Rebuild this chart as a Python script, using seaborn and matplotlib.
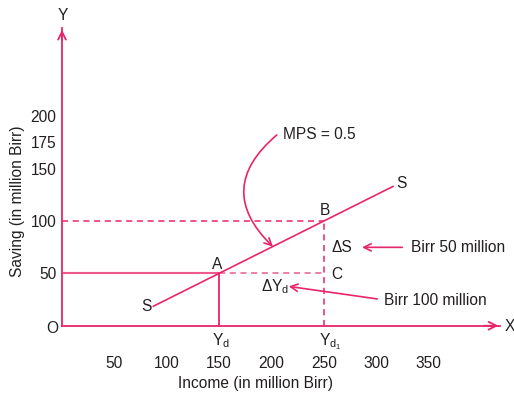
import matplotlib
matplotlib.use("Agg")
import matplotlib.pyplot as plt
import seaborn as sns

# ---- data ----
income_ticks = [50, 100, 150, 200, 250, 300, 350]
saving_ticks = [50, 100, 150, 175, 200]
s_income = [87, 316]          # saving function S (endpoints)
s_saving = [18.5, 133]
point_a = (150, 50)
point_b = (250, 100)
point_c = (250, 50)

sns.set_theme(style="white")
plt.rcParams['font.family'] = ['Liberation Sans', 'DejaVu Sans']
plt.rcParams['mathtext.fontset'] = 'custom'
plt.rcParams['mathtext.rm'] = 'Liberation Sans'
plt.rcParams['mathtext.it'] = 'Liberation Sans'

PINK = '#e8246a'
LIGHT = '#ee5a8e'
TXT = '#231f20'
FS = 11.2

fig = plt.figure(figsize=(5.14, 3.95), dpi=100)
ax = fig.add_axes([0, 0, 1, 1])
ax.set_xlim(-59.16, 431.3)
ax.set_ylim(-66.1, 310.8)
ax.patch.set_alpha(0)

# axes spines as the economic axes
for s in ['top', 'right']:
    ax.spines[s].set_visible(False)
for s in ['left', 'bottom']:
    ax.spines[s].set_position(('data', 0))
    ax.spines[s].set_color(PINK)
    ax.spines[s].set_linewidth(1.3)
ax.spines['left'].set_bounds(0, 284)
ax.spines['bottom'].set_bounds(0, 418)
ax.annotate('', xy=(0, 285), xytext=(0, 270),
            arrowprops=dict(arrowstyle='->', color=PINK, lw=1.3, mutation_scale=14))
ax.annotate('', xy=(419, 0), xytext=(400, 0),
            arrowprops=dict(arrowstyle='->', color=PINK, lw=1.3, mutation_scale=14))

ax.set_xticks(income_ticks)
ax.set_xticklabels([str(v) for v in income_ticks])
ax.set_yticks(saving_ticks)
ax.set_yticklabels([str(v) for v in saving_ticks])
ax.tick_params(axis='both', direction='in', length=5, width=1.1, color=PINK,
               labelsize=FS, labelcolor=TXT)
ax.tick_params(axis='x', pad=22)
ax.tick_params(axis='y', pad=4)
ax.grid(False)

# guide lines
ax.plot([0, point_a[0]], [point_a[1], point_a[1]], color=LIGHT, lw=1.5, solid_capstyle='butt')
ax.plot([point_a[0], point_c[0]], [point_a[1], point_c[1]], color=LIGHT, lw=1.1,
        dashes=(4, 3))
ax.plot([point_a[0], point_a[0]], [0, point_a[1]], color=PINK, lw=1.3)
ax.plot([0, point_b[0]], [point_b[1], point_b[1]], color=PINK, lw=1.1, dashes=(4, 3))
ax.plot([point_b[0], point_b[0]], [0, point_b[1]], color=PINK, lw=1.1, dashes=(4, 3))

# saving function
sns.lineplot(x=s_income, y=s_saving, ax=ax, color=PINK, lw=1.2)

kw = dict(fontsize=FS, color=TXT)
ax.text(80.2, 18.1, 'S', ha='center', va='center', **kw)
ax.text(324, 136, 'S', ha='center', va='center', **kw)
ax.text(148.2, 58, 'A', ha='center', va='center', **kw)
ax.text(251, 110.4, 'B', ha='center', va='center', **kw)
ax.text(262.7, 49.3, 'C', ha='center', va='center', **kw)
ax.text(266.9, 74.8, 'ΔS', ha='center', va='center', **kw)
ax.text(378.2, 74.8, 'Birr 50 million', ha='center', va='center', **kw)
ax.text(203, 37.2, r'Δ$\mathregular{Y_d}$', ha='center', va='center', **kw)
ax.text(356, 24.5, 'Birr 100 million', ha='center', va='center', **kw)
ax.text(245.5, 182, 'MPS = 0.5', ha='center', va='center', **kw)
ax.text(152, -5.5, r'$\mathregular{Y_d}$', ha='center', va='top', **kw)
ax.text(256, -5.5, r'$\mathregular{Y_{d_1}}$', ha='center', va='top', **kw)
ax.text(-9.3, -3, 'O', ha='center', va='center', **kw)
ax.text(0.7, 296, 'Y', ha='center', va='center', **kw)
ax.text(427.5, -1, 'X', ha='center', va='center', **kw)
ax.text(185, -55.6, 'Income (in million Birr)', ha='center', va='center', **kw)
ax.text(-42, 119, 'Saving (in million Birr)', ha='center', va='center',
        rotation=90, **kw)

# annotation arrows
ax.annotate('', xy=(283.7, 74.8), xytext=(327.3, 74.8),
            arrowprops=dict(arrowstyle='->', color=PINK, lw=1.2, mutation_scale=13))
ax.annotate('', xy=(213.7, 37.9), xytext=(303.4, 25.2),
            arrowprops=dict(arrowstyle='->', color=PINK, lw=1.2, mutation_scale=13))
ax.annotate('', xy=(201.3, 75.4), xytext=(204.9, 182),
            arrowprops=dict(arrowstyle='->', color=PINK, lw=1.2, mutation_scale=13,
                            shrinkA=0, shrinkB=0,
                            connectionstyle='arc3,rad=0.55'))

fig.savefig('out.png', dpi=100)
